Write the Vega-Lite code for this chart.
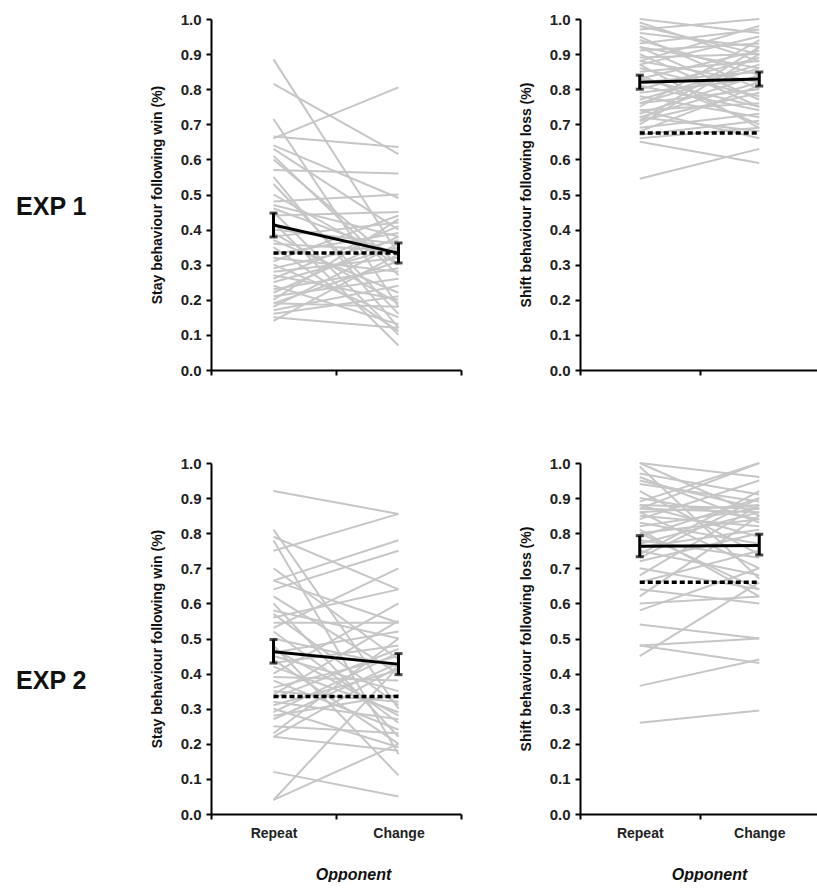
{
  "$schema": "https://vega.github.io/schema/vega-lite/v6.json",
  "padding": {"left": 15, "top": 12, "right": 0, "bottom": 0},
  "background": "white",
  "config": {
    "view": {"stroke": null},
    "font": "Liberation Sans",
    "axis": {
      "domainColor": "black", "domainWidth": 2, "tickColor": "black", "tickWidth": 2, "tickSize": 5,
      "labelFont": "Liberation Sans", "labelFontWeight": "bold", "labelFontSize": 15, "labelColor": "#222", "labelPadding": 5,
      "titleFont": "Liberation Sans", "titleFontWeight": "bold", "titleColor": "#111", "grid": false
    },
    "title": {"font": "Liberation Sans", "fontWeight": "bold", "fontSize": 25, "color": "#111"}
  },
  "datasets": {
    "subj": [
      {"p":"E1S","id":1,"Repeat":0.885,"Change":0.33},{"p":"E1S","id":2,"Repeat":0.815,"Change":0.615},{"p":"E1S","id":3,"Repeat":0.66,"Change":0.805},{"p":"E1S","id":4,"Repeat":0.665,"Change":0.635},{"p":"E1S","id":5,"Repeat":0.715,"Change":0.18},{"p":"E1S","id":6,"Repeat":0.63,"Change":0.4},{"p":"E1S","id":7,"Repeat":0.61,"Change":0.27},{"p":"E1S","id":8,"Repeat":0.57,"Change":0.56},{"p":"E1S","id":9,"Repeat":0.55,"Change":0.12},{"p":"E1S","id":10,"Repeat":0.48,"Change":0.5},{"p":"E1S","id":11,"Repeat":0.47,"Change":0.38},{"p":"E1S","id":12,"Repeat":0.46,"Change":0.33},{"p":"E1S","id":13,"Repeat":0.44,"Change":0.45},{"p":"E1S","id":14,"Repeat":0.42,"Change":0.07},{"p":"E1S","id":15,"Repeat":0.4,"Change":0.36},{"p":"E1S","id":16,"Repeat":0.38,"Change":0.42},{"p":"E1S","id":17,"Repeat":0.37,"Change":0.22},{"p":"E1S","id":18,"Repeat":0.36,"Change":0.34},{"p":"E1S","id":19,"Repeat":0.35,"Change":0.11},{"p":"E1S","id":20,"Repeat":0.33,"Change":0.39},{"p":"E1S","id":21,"Repeat":0.32,"Change":0.28},{"p":"E1S","id":22,"Repeat":0.31,"Change":0.44},{"p":"E1S","id":23,"Repeat":0.3,"Change":0.15},{"p":"E1S","id":24,"Repeat":0.29,"Change":0.37},{"p":"E1S","id":25,"Repeat":0.28,"Change":0.32},{"p":"E1S","id":26,"Repeat":0.27,"Change":0.2},{"p":"E1S","id":27,"Repeat":0.26,"Change":0.41},{"p":"E1S","id":28,"Repeat":0.25,"Change":0.35},{"p":"E1S","id":29,"Repeat":0.24,"Change":0.13},{"p":"E1S","id":30,"Repeat":0.23,"Change":0.29},{"p":"E1S","id":31,"Repeat":0.22,"Change":0.38},{"p":"E1S","id":32,"Repeat":0.21,"Change":0.26},{"p":"E1S","id":33,"Repeat":0.2,"Change":0.43},{"p":"E1S","id":34,"Repeat":0.19,"Change":0.18},{"p":"E1S","id":35,"Repeat":0.19,"Change":0.31},{"p":"E1S","id":36,"Repeat":0.18,"Change":0.36},{"p":"E1S","id":37,"Repeat":0.17,"Change":0.24},{"p":"E1S","id":38,"Repeat":0.16,"Change":0.21},{"p":"E1S","id":39,"Repeat":0.15,"Change":0.12},{"p":"E1S","id":40,"Repeat":0.14,"Change":0.33},{"p":"E1S","id":41,"Repeat":0.64,"Change":0.49},{"p":"E1S","id":42,"Repeat":0.6,"Change":0.3},{"p":"E1S","id":43,"Repeat":0.53,"Change":0.16},{"p":"E1S","id":44,"Repeat":0.5,"Change":0.3},{"p":"E1S","id":45,"Repeat":0.45,"Change":0.1},{"p":"E1S","id":46,"Repeat":0.39,"Change":0.19},
      {"p":"E1L","id":1,"Repeat":0.545,"Change":0.63},{"p":"E1L","id":2,"Repeat":0.65,"Change":0.59},{"p":"E1L","id":3,"Repeat":1.0,"Change":0.96},{"p":"E1L","id":4,"Repeat":0.97,"Change":1.0},{"p":"E1L","id":5,"Repeat":0.99,"Change":0.88},{"p":"E1L","id":6,"Repeat":0.96,"Change":0.92},{"p":"E1L","id":7,"Repeat":0.95,"Change":0.8},{"p":"E1L","id":8,"Repeat":0.93,"Change":0.97},{"p":"E1L","id":9,"Repeat":0.92,"Change":0.86},{"p":"E1L","id":10,"Repeat":0.91,"Change":0.93},{"p":"E1L","id":11,"Repeat":0.9,"Change":0.75},{"p":"E1L","id":12,"Repeat":0.89,"Change":0.9},{"p":"E1L","id":13,"Repeat":0.88,"Change":0.82},{"p":"E1L","id":14,"Repeat":0.87,"Change":0.95},{"p":"E1L","id":15,"Repeat":0.86,"Change":0.78},{"p":"E1L","id":16,"Repeat":0.85,"Change":0.88},{"p":"E1L","id":17,"Repeat":0.84,"Change":0.7},{"p":"E1L","id":18,"Repeat":0.83,"Change":0.91},{"p":"E1L","id":19,"Repeat":0.82,"Change":0.85},{"p":"E1L","id":20,"Repeat":0.81,"Change":0.74},{"p":"E1L","id":21,"Repeat":0.8,"Change":0.89},{"p":"E1L","id":22,"Repeat":0.79,"Change":0.83},{"p":"E1L","id":23,"Repeat":0.78,"Change":0.72},{"p":"E1L","id":24,"Repeat":0.77,"Change":0.87},{"p":"E1L","id":25,"Repeat":0.76,"Change":0.8},{"p":"E1L","id":26,"Repeat":0.75,"Change":0.94},{"p":"E1L","id":27,"Repeat":0.74,"Change":0.76},{"p":"E1L","id":28,"Repeat":0.73,"Change":0.84},{"p":"E1L","id":29,"Repeat":0.72,"Change":0.68},{"p":"E1L","id":30,"Repeat":0.71,"Change":0.79},{"p":"E1L","id":31,"Repeat":0.7,"Change":0.9},{"p":"E1L","id":32,"Repeat":0.69,"Change":0.73},{"p":"E1L","id":33,"Repeat":0.68,"Change":0.81},{"p":"E1L","id":34,"Repeat":0.67,"Change":0.71},{"p":"E1L","id":35,"Repeat":0.66,"Change":0.69},{"p":"E1L","id":36,"Repeat":0.92,"Change":0.77},{"p":"E1L","id":37,"Repeat":0.88,"Change":0.98},{"p":"E1L","id":38,"Repeat":0.76,"Change":0.86},{"p":"E1L","id":39,"Repeat":0.74,"Change":0.66},{"p":"E1L","id":40,"Repeat":0.94,"Change":0.84},{"p":"E1L","id":41,"Repeat":0.71,"Change":0.92},{"p":"E1L","id":42,"Repeat":0.83,"Change":0.75},{"p":"E1L","id":43,"Repeat":0.87,"Change":0.69},{"p":"E1L","id":44,"Repeat":0.98,"Change":0.9},{"p":"E1L","id":45,"Repeat":0.72,"Change":0.82},
      {"p":"E2S","id":1,"Repeat":0.92,"Change":0.855},{"p":"E2S","id":2,"Repeat":0.81,"Change":0.3},{"p":"E2S","id":3,"Repeat":0.79,"Change":0.64},{"p":"E2S","id":4,"Repeat":0.78,"Change":0.17},{"p":"E2S","id":5,"Repeat":0.75,"Change":0.855},{"p":"E2S","id":6,"Repeat":0.665,"Change":0.78},{"p":"E2S","id":7,"Repeat":0.665,"Change":0.545},{"p":"E2S","id":8,"Repeat":0.64,"Change":0.75},{"p":"E2S","id":9,"Repeat":0.62,"Change":0.4},{"p":"E2S","id":10,"Repeat":0.6,"Change":0.22},{"p":"E2S","id":11,"Repeat":0.58,"Change":0.5},{"p":"E2S","id":12,"Repeat":0.56,"Change":0.64},{"p":"E2S","id":13,"Repeat":0.545,"Change":0.545},{"p":"E2S","id":14,"Repeat":0.52,"Change":0.26},{"p":"E2S","id":15,"Repeat":0.5,"Change":0.42},{"p":"E2S","id":16,"Repeat":0.48,"Change":0.11},{"p":"E2S","id":17,"Repeat":0.46,"Change":0.52},{"p":"E2S","id":18,"Repeat":0.45,"Change":0.35},{"p":"E2S","id":19,"Repeat":0.44,"Change":0.2},{"p":"E2S","id":20,"Repeat":0.43,"Change":0.48},{"p":"E2S","id":21,"Repeat":0.42,"Change":0.29},{"p":"E2S","id":22,"Repeat":0.4,"Change":0.6},{"p":"E2S","id":23,"Repeat":0.39,"Change":0.38},{"p":"E2S","id":24,"Repeat":0.38,"Change":0.24},{"p":"E2S","id":25,"Repeat":0.36,"Change":0.45},{"p":"E2S","id":26,"Repeat":0.35,"Change":0.32},{"p":"E2S","id":27,"Repeat":0.34,"Change":0.55},{"p":"E2S","id":28,"Repeat":0.32,"Change":0.27},{"p":"E2S","id":29,"Repeat":0.31,"Change":0.41},{"p":"E2S","id":30,"Repeat":0.3,"Change":0.19},{"p":"E2S","id":31,"Repeat":0.29,"Change":0.46},{"p":"E2S","id":32,"Repeat":0.28,"Change":0.34},{"p":"E2S","id":33,"Repeat":0.27,"Change":0.43},{"p":"E2S","id":34,"Repeat":0.25,"Change":0.23},{"p":"E2S","id":35,"Repeat":0.23,"Change":0.5},{"p":"E2S","id":36,"Repeat":0.22,"Change":0.42},{"p":"E2S","id":37,"Repeat":0.22,"Change":0.18},{"p":"E2S","id":38,"Repeat":0.12,"Change":0.05},{"p":"E2S","id":39,"Repeat":0.04,"Change":0.42},{"p":"E2S","id":40,"Repeat":0.04,"Change":0.2},{"p":"E2S","id":41,"Repeat":0.7,"Change":0.44},{"p":"E2S","id":42,"Repeat":0.57,"Change":0.31},{"p":"E2S","id":43,"Repeat":0.53,"Change":0.7},{"p":"E2S","id":44,"Repeat":0.47,"Change":0.28},{"p":"E2S","id":45,"Repeat":0.33,"Change":0.47},
      {"p":"E2L","id":1,"Repeat":0.26,"Change":0.295},{"p":"E2L","id":2,"Repeat":0.365,"Change":0.44},{"p":"E2L","id":3,"Repeat":0.45,"Change":0.66},{"p":"E2L","id":4,"Repeat":0.48,"Change":0.43},{"p":"E2L","id":5,"Repeat":0.48,"Change":0.5},{"p":"E2L","id":6,"Repeat":0.54,"Change":0.5},{"p":"E2L","id":7,"Repeat":0.58,"Change":0.7},{"p":"E2L","id":8,"Repeat":0.6,"Change":0.62},{"p":"E2L","id":9,"Repeat":0.62,"Change":0.85},{"p":"E2L","id":10,"Repeat":0.64,"Change":0.6},{"p":"E2L","id":11,"Repeat":0.66,"Change":0.75},{"p":"E2L","id":12,"Repeat":0.68,"Change":0.88},{"p":"E2L","id":13,"Repeat":0.7,"Change":0.64},{"p":"E2L","id":14,"Repeat":0.72,"Change":0.8},{"p":"E2L","id":15,"Repeat":0.74,"Change":0.92},{"p":"E2L","id":16,"Repeat":0.75,"Change":0.68},{"p":"E2L","id":17,"Repeat":0.77,"Change":0.86},{"p":"E2L","id":18,"Repeat":0.78,"Change":0.73},{"p":"E2L","id":19,"Repeat":0.79,"Change":0.9},{"p":"E2L","id":20,"Repeat":0.8,"Change":0.84},{"p":"E2L","id":21,"Repeat":0.81,"Change":0.62},{"p":"E2L","id":22,"Repeat":0.82,"Change":0.87},{"p":"E2L","id":23,"Repeat":0.83,"Change":0.77},{"p":"E2L","id":24,"Repeat":0.84,"Change":0.95},{"p":"E2L","id":25,"Repeat":0.85,"Change":0.82},{"p":"E2L","id":26,"Repeat":0.86,"Change":0.7},{"p":"E2L","id":27,"Repeat":0.86,"Change":0.88},{"p":"E2L","id":28,"Repeat":0.87,"Change":0.86},{"p":"E2L","id":29,"Repeat":0.88,"Change":0.79},{"p":"E2L","id":30,"Repeat":0.89,"Change":1.0},{"p":"E2L","id":31,"Repeat":0.9,"Change":0.84},{"p":"E2L","id":32,"Repeat":0.92,"Change":0.74},{"p":"E2L","id":33,"Repeat":0.94,"Change":0.89},{"p":"E2L","id":34,"Repeat":0.95,"Change":0.87},{"p":"E2L","id":35,"Repeat":0.96,"Change":0.83},{"p":"E2L","id":36,"Repeat":0.97,"Change":0.91},{"p":"E2L","id":37,"Repeat":1.0,"Change":0.85},{"p":"E2L","id":38,"Repeat":1.0,"Change":0.96},{"p":"E2L","id":39,"Repeat":0.99,"Change":0.67},{"p":"E2L","id":40,"Repeat":0.87,"Change":1.0},{"p":"E2L","id":41,"Repeat":0.8,"Change":0.64},{"p":"E2L","id":42,"Repeat":0.73,"Change":0.9},{"p":"E2L","id":43,"Repeat":0.88,"Change":0.87},{"p":"E2L","id":44,"Repeat":0.76,"Change":0.81}
    ],
    "means": [
      {"p":"E1S","opponent":"Repeat","mean":0.413,"lo":0.379,"hi":0.447},{"p":"E1S","opponent":"Change","mean":0.333,"lo":0.305,"hi":0.362},
      {"p":"E1L","opponent":"Repeat","mean":0.82,"lo":0.8,"hi":0.84},{"p":"E1L","opponent":"Change","mean":0.829,"lo":0.809,"hi":0.849},
      {"p":"E2S","opponent":"Repeat","mean":0.462,"lo":0.43,"hi":0.497},{"p":"E2S","opponent":"Change","mean":0.427,"lo":0.397,"hi":0.457},
      {"p":"E2L","opponent":"Repeat","mean":0.763,"lo":0.733,"hi":0.793},{"p":"E2L","opponent":"Change","mean":0.765,"lo":0.738,"hi":0.797}
    ],
    "chance": [
      {"p":"E1S","from":"Repeat","to":"Change","chance":0.333},
      {"p":"E1L","from":"Repeat","to":"Change","chance":0.675},
      {"p":"E2S","from":"Repeat","to":"Change","chance":0.335},
      {"p":"E2L","from":"Repeat","to":"Change","chance":0.66}
    ]
  },
  "vconcat": [
    {
      "title": {"text": "EXP 1", "orient": "left", "angle": 0, "anchor": "middle", "offset": 28},
      "spacing": 57,
      "hconcat": [
        {
          "width": 250, "height": 351,
          "encoding": {
            "x": {"field": "opponent", "type": "nominal", "scale": {"domain": ["Repeat", "Change"], "paddingInner": 0, "paddingOuter": 0}, "axis": {"tickBand": "extent", "labels": false, "title": null}},
            "y": {"type": "quantitative", "scale": {"domain": [0, 1], "nice": false}, "axis": {"title": "Stay behaviour following win (%)", "values": [0,0.1,0.2,0.3,0.4,0.5,0.6,0.7,0.8,0.9,1], "format": ".1f", "titleFontSize": 14, "titlePadding": 16}}
          },
          "layer": [
            {"data": {"name": "subj"}, "transform": [{"filter": "datum.p === 'E1S'"}, {"fold": ["Repeat", "Change"], "as": ["opponent", "value"]}], "mark": {"type": "line", "color": "#c6c6c6", "strokeWidth": 2}, "encoding": {"y": {"field": "value", "type": "quantitative"}, "detail": {"field": "id", "type": "nominal"}}},
            {"data": {"name": "chance"}, "transform": [{"filter": "datum.p === 'E1S'"}], "mark": {"type": "rule", "color": "black", "strokeWidth": 3.5, "strokeDash": [5, 3]}, "encoding": {"x": {"field": "from", "type": "nominal"}, "x2": {"field": "to"}, "y": {"field": "chance", "type": "quantitative"}}},
            {"data": {"name": "means"}, "transform": [{"filter": "datum.p === 'E1S'"}], "mark": {"type": "line", "color": "black", "strokeWidth": 3}, "encoding": {"y": {"field": "mean", "type": "quantitative"}}},
            {"data": {"name": "means"}, "transform": [{"filter": "datum.p === 'E1S'"}], "mark": {"type": "errorbar", "color": "black", "thickness": 3, "ticks": {"size": 8, "thickness": 3, "color": "black"}}, "encoding": {"y": {"field": "lo", "type": "quantitative"}, "y2": {"field": "hi"}}}
          ]
        },
        {
          "width": 239, "height": 351,
          "encoding": {
            "x": {"field": "opponent", "type": "nominal", "scale": {"domain": ["Repeat", "Change"], "paddingInner": 0, "paddingOuter": 0}, "axis": {"tickBand": "extent", "labels": false, "title": null}},
            "y": {"type": "quantitative", "scale": {"domain": [0, 1], "nice": false}, "axis": {"title": "Shift behaviour following loss (%)", "values": [0,0.1,0.2,0.3,0.4,0.5,0.6,0.7,0.8,0.9,1], "format": ".1f", "titleFontSize": 14, "titlePadding": 16}}
          },
          "layer": [
            {"data": {"name": "subj"}, "transform": [{"filter": "datum.p === 'E1L'"}, {"fold": ["Repeat", "Change"], "as": ["opponent", "value"]}], "mark": {"type": "line", "color": "#c6c6c6", "strokeWidth": 2}, "encoding": {"y": {"field": "value", "type": "quantitative"}, "detail": {"field": "id", "type": "nominal"}}},
            {"data": {"name": "chance"}, "transform": [{"filter": "datum.p === 'E1L'"}], "mark": {"type": "rule", "color": "black", "strokeWidth": 3.5, "strokeDash": [5, 3]}, "encoding": {"x": {"field": "from", "type": "nominal"}, "x2": {"field": "to"}, "y": {"field": "chance", "type": "quantitative"}}},
            {"data": {"name": "means"}, "transform": [{"filter": "datum.p === 'E1L'"}], "mark": {"type": "line", "color": "black", "strokeWidth": 3}, "encoding": {"y": {"field": "mean", "type": "quantitative"}}},
            {"data": {"name": "means"}, "transform": [{"filter": "datum.p === 'E1L'"}], "mark": {"type": "errorbar", "color": "black", "thickness": 3, "ticks": {"size": 8, "thickness": 3, "color": "black"}}, "encoding": {"y": {"field": "lo", "type": "quantitative"}, "y2": {"field": "hi"}}}
          ]
        }
      ]
    },
    {
      "title": {"text": "EXP 2", "orient": "left", "angle": 0, "anchor": "middle", "offset": 28},
      "spacing": 57,
      "hconcat": [
        {
          "width": 250, "height": 351,
          "encoding": {
            "x": {"field": "opponent", "type": "nominal", "scale": {"domain": ["Repeat", "Change"], "paddingInner": 0, "paddingOuter": 0}, "axis": {"tickBand": "extent", "labelAngle": 0, "labelPadding": 7, "labelFontSize": 14, "title": "Opponent", "titleFontSize": 16, "titleFontStyle": "italic", "titlePadding": 26, "titleX": 142}},
            "y": {"type": "quantitative", "scale": {"domain": [0, 1], "nice": false}, "axis": {"title": "Stay behaviour following win (%)", "values": [0,0.1,0.2,0.3,0.4,0.5,0.6,0.7,0.8,0.9,1], "format": ".1f", "titleFontSize": 14, "titlePadding": 16}}
          },
          "layer": [
            {"data": {"name": "subj"}, "transform": [{"filter": "datum.p === 'E2S'"}, {"fold": ["Repeat", "Change"], "as": ["opponent", "value"]}], "mark": {"type": "line", "color": "#c6c6c6", "strokeWidth": 2}, "encoding": {"y": {"field": "value", "type": "quantitative"}, "detail": {"field": "id", "type": "nominal"}}},
            {"data": {"name": "chance"}, "transform": [{"filter": "datum.p === 'E2S'"}], "mark": {"type": "rule", "color": "black", "strokeWidth": 3.5, "strokeDash": [5, 3]}, "encoding": {"x": {"field": "from", "type": "nominal"}, "x2": {"field": "to"}, "y": {"field": "chance", "type": "quantitative"}}},
            {"data": {"name": "means"}, "transform": [{"filter": "datum.p === 'E2S'"}], "mark": {"type": "line", "color": "black", "strokeWidth": 3}, "encoding": {"y": {"field": "mean", "type": "quantitative"}}},
            {"data": {"name": "means"}, "transform": [{"filter": "datum.p === 'E2S'"}], "mark": {"type": "errorbar", "color": "black", "thickness": 3, "ticks": {"size": 8, "thickness": 3, "color": "black"}}, "encoding": {"y": {"field": "lo", "type": "quantitative"}, "y2": {"field": "hi"}}}
          ]
        },
        {
          "width": 239, "height": 351,
          "encoding": {
            "x": {"field": "opponent", "type": "nominal", "scale": {"domain": ["Repeat", "Change"], "paddingInner": 0, "paddingOuter": 0}, "axis": {"tickBand": "extent", "labelAngle": 0, "labelPadding": 7, "labelFontSize": 14, "title": "Opponent", "titleFontSize": 16, "titleFontStyle": "italic", "titlePadding": 26, "titleX": 129}},
            "y": {"type": "quantitative", "scale": {"domain": [0, 1], "nice": false}, "axis": {"title": "Shift behaviour following loss (%)", "values": [0,0.1,0.2,0.3,0.4,0.5,0.6,0.7,0.8,0.9,1], "format": ".1f", "titleFontSize": 14, "titlePadding": 16}}
          },
          "layer": [
            {"data": {"name": "subj"}, "transform": [{"filter": "datum.p === 'E2L'"}, {"fold": ["Repeat", "Change"], "as": ["opponent", "value"]}], "mark": {"type": "line", "color": "#c6c6c6", "strokeWidth": 2}, "encoding": {"y": {"field": "value", "type": "quantitative"}, "detail": {"field": "id", "type": "nominal"}}},
            {"data": {"name": "chance"}, "transform": [{"filter": "datum.p === 'E2L'"}], "mark": {"type": "rule", "color": "black", "strokeWidth": 3.5, "strokeDash": [5, 3]}, "encoding": {"x": {"field": "from", "type": "nominal"}, "x2": {"field": "to"}, "y": {"field": "chance", "type": "quantitative"}}},
            {"data": {"name": "means"}, "transform": [{"filter": "datum.p === 'E2L'"}], "mark": {"type": "line", "color": "black", "strokeWidth": 3}, "encoding": {"y": {"field": "mean", "type": "quantitative"}}},
            {"data": {"name": "means"}, "transform": [{"filter": "datum.p === 'E2L'"}], "mark": {"type": "errorbar", "color": "black", "thickness": 3, "ticks": {"size": 8, "thickness": 3, "color": "black"}}, "encoding": {"y": {"field": "lo", "type": "quantitative"}, "y2": {"field": "hi"}}}
          ]
        }
      ]
    }
  ],
  "spacing": 78
}
